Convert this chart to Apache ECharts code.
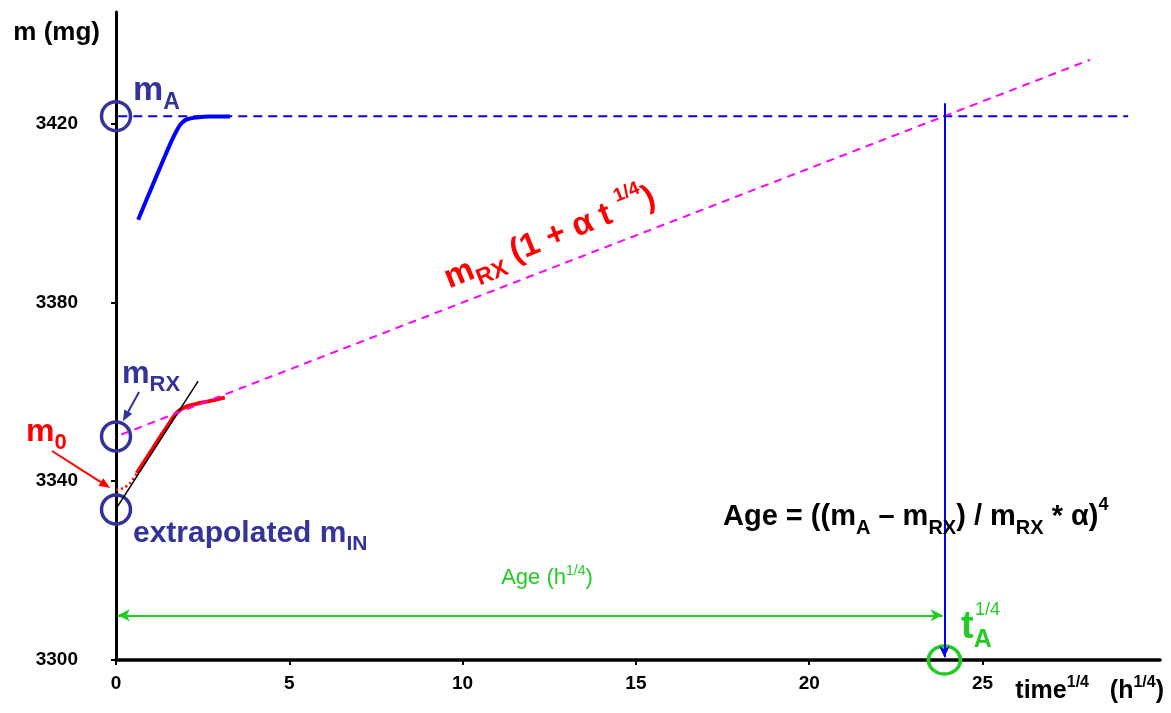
<!DOCTYPE html>
<html>
<head>
<meta charset="utf-8">
<script src="https://cdn.jsdelivr.net/npm/echarts@6/dist/echarts.min.js"></script>
<style>
  html, body { margin: 0; padding: 0; background: #ffffff; }
  #chart { width: 1171px; height: 713px; }
</style>
</head>
<body>
<div id="chart"></div>
<script>
// ---- axis ticks ----
const xTicks = [0, 5, 10, 15, 20, 25];
const yTicks = [3300, 3340, 3380, 3420];

// ---- uptake curve approaching the saturation mass m_A ----
const saturationX = [0.64, 1.0, 1.3, 1.6, 1.78, 1.9, 2.05, 2.33, 2.7, 3.29];
const saturationY = [3398.5, 3405.2, 3410.7, 3416.1, 3418.9, 3420.2, 3421.0, 3421.4, 3421.6, 3421.6];

// ---- early rehydroxylation measurement (solid) and initial drying part (dotted) ----
const measuredX = [0.6, 1.0, 1.3, 1.6, 1.75, 1.9, 2.1, 2.42, 2.8, 3.14];
const measuredY = [3341.8, 3346.6, 3350.2, 3353.7, 3355.3, 3356.2, 3356.9, 3357.5, 3358.1, 3358.7];
const dryingX = [0, 0.15, 0.3, 0.45, 0.6];
const dryingY = [3338.1, 3338.3, 3338.9, 3340.0, 3341.8];

// ---- straight-line fits ----
const tangentX = [-0.8, 2.37];
const tangentY = [3324.2, 3362.4];
const rateX = [-0.6, 28.1];
const rateY = [3348.2, 3434.3];

// ---- reference levels ----
const mA = 3421.7;
const levelX = [-0.8, 29.2];
const mRX = 3350;
const mIN = 3333.7;
const tA = 23.9;
const ageArrowY = 3310;
const dropTopY = 3424.6;

const F = '"Liberation Sans", Arial, sans-serif';
const NAVY = '#333399';
const GREEN = '#22cc22';

function pairs(xs, ys) { return xs.map((x, i) => [x, ys[i]]); }

const chart = echarts.init(document.getElementById('chart'), null, { renderer: 'canvas' });

const tickFmt = (list) => (v) => (list.indexOf(v) >= 0 ? String(v) : '');

chart.setOption({
  animation: false,
  backgroundColor: '#ffffff',
  grid: { left: 116, right: 11, top: 12, bottom: 53, containLabel: false },
  xAxis: {
    type: 'value', min: 0, max: 30.12, interval: 5,
    name: '{b|time}{p|1/4}{b|   (h}{p|1/4}{b|)}',
    nameLocation: 'end', nameGap: 4,
    nameTextStyle: {
      align: 'right', verticalAlign: 'top', padding: [15, 0, 0, 0],
      rich: {
        b: { fontFamily: F, fontWeight: 'bold', fontSize: 25, color: '#000', lineHeight: 32 },
        p: { fontFamily: F, fontWeight: 'bold', fontSize: 16, color: '#000', verticalAlign: 'top', lineHeight: 16 }
      }
    },
    splitLine: { show: false },
    axisLine: { show: true, onZero: false, lineStyle: { color: '#000', width: 3.5 } },
    axisTick: { show: true, customValues: xTicks, length: 5, lineStyle: { color: '#000', width: 2 } },
    axisLabel: {
      customValues: xTicks, formatter: tickFmt(xTicks), margin: 14,
      fontFamily: F, fontWeight: 'bold', fontSize: 19, color: '#000'
    }
  },
  yAxis: {
    type: 'value', min: 3300, max: 3445, interval: 40,
    name: 'm (mg)', nameLocation: 'end', nameGap: 0,
    nameTextStyle: {
      align: 'right', verticalAlign: 'top', padding: [8, 16, 0, 0],
      fontFamily: F, fontWeight: 'bold', fontSize: 26, color: '#000'
    },
    splitLine: { show: false },
    axisLine: { show: true, onZero: false, lineStyle: { color: '#000', width: 3 } },
    axisTick: { show: true, customValues: yTicks, length: 5, lineStyle: { color: '#000', width: 2 } },
    axisLabel: {
      customValues: yTicks, formatter: tickFmt(yTicks), margin: 38,
      padding: [14, 0, 0, 0],
      fontFamily: F, fontWeight: 'bold', fontSize: 19, color: '#000'
    }
  },
  series: [
    {
      name: 'saturation', type: 'line', data: pairs(saturationX, saturationY),
      smooth: 0.35, showSymbol: false, clip: false,
      lineStyle: { color: '#0000ff', width: 4 }
    },
    {
      name: 'mA level', type: 'line', data: pairs(levelX, [mA, mA]),
      showSymbol: false, clip: false,
      lineStyle: { color: '#0000ff', width: 2, type: [9, 6] },
      markLine: {
        silent: true, symbol: ['none', 'arrow'], symbolSize: [8, 11],
        label: { show: false },
        lineStyle: { color: '#0000ff', width: 2, type: 'solid' },
        data: [[{ coord: [tA, dropTopY] }, { coord: [tA, 3300.6] }]]
      }
    },
    {
      name: 'drying', type: 'line', data: pairs(dryingX, dryingY),
      smooth: 0.4, showSymbol: false, clip: false,
      lineStyle: { color: '#ff0000', width: 2.5, type: [2, 3] }
    },
    {
      name: 'measured', type: 'line', data: pairs(measuredX, measuredY),
      smooth: 0.35, showSymbol: false, clip: false,
      lineStyle: { color: '#ff0000', width: 4 }
    },
    {
      name: 'tangent', type: 'line', data: pairs(tangentX, tangentY),
      showSymbol: false, clip: false,
      lineStyle: { color: '#000000', width: 1.5 }
    },
    {
      name: 'rate', type: 'line', data: pairs(rateX, rateY),
      showSymbol: false, clip: false,
      lineStyle: { color: '#ff00ff', width: 2, type: [8, 6] },
      markLine: {
        silent: true, symbol: ['arrow', 'arrow'], symbolSize: [9, 12],
        label: { show: false },
        lineStyle: { color: GREEN, width: 2, type: 'solid' },
        data: [[{ coord: [0.05, ageArrowY] }, { coord: [tA - 0.05, ageArrowY] }]]
      }
    },
    {
      name: 'masses', type: 'scatter', data: pairs([0, 0, 0], [mA, mRX, mIN]),
      symbol: 'circle', symbolSize: 29, clip: false,
      itemStyle: { color: 'rgba(0,0,0,0)', borderColor: NAVY, borderWidth: 3.5, opacity: 1 }
    },
    {
      name: 'age', type: 'scatter', data: [[tA, 3300]],
      symbol: 'circle', symbolSize: [32, 28], clip: false,
      itemStyle: { color: 'rgba(0,0,0,0)', borderColor: GREEN, borderWidth: 3.5, opacity: 1 }
    }
  ]
});

// ---- annotation text and pointer arrows ----
function rich(fill, size, subSize, supSize, lh) {
  return {
    b: { fontFamily: F, fontWeight: 'bold', fontSize: size, fill, lineHeight: lh },
    s: { fontFamily: F, fontWeight: 'bold', fontSize: subSize, fill, verticalAlign: 'bottom', lineHeight: subSize },
    p: { fontFamily: F, fontWeight: 'bold', fontSize: supSize, fill, verticalAlign: 'top', lineHeight: supSize }
  };
}

function label(x, y, text, r, align, rotationDeg) {
  return {
    type: 'text', x, y, silent: true, z: 100,
    rotation: (rotationDeg || 0) * Math.PI / 180,
    style: { text, rich: r, align: align || 'left', verticalAlign: 'middle' }
  };
}

function arrow(x1, y1, x2, y2, color, w, hl, hw) {
  const dx = x2 - x1, dy = y2 - y1, len = Math.hypot(dx, dy);
  const ux = dx / len, uy = dy / len;
  const bx = x2 - ux * hl, by = y2 - uy * hl;
  return [
    { type: 'line', silent: true, z: 100, shape: { x1, y1, x2: bx, y2: by }, style: { stroke: color, lineWidth: w } },
    { type: 'polygon', silent: true, z: 100,
      shape: { points: [[x2, y2], [bx - uy * hw / 2, by + ux * hw / 2], [bx + uy * hw / 2, by - ux * hw / 2]] },
      style: { fill: color } }
  ];
}

const m0Tip = chart.convertToPixel({ xAxisIndex: 0, yAxisIndex: 0 }, [-0.17, 3338.5]);
const rxTip = chart.convertToPixel({ xAxisIndex: 0, yAxisIndex: 0 }, [0.2, 3353.4]);

const ageRich = {
  n: { fontFamily: F, fontSize: 22, fill: GREEN, lineHeight: 28 },
  q: { fontFamily: F, fontSize: 14, fill: GREEN, verticalAlign: 'top', lineHeight: 14 }
};

const graphics = [
  label(133, 91, '{b|m}{s|A}', rich(NAVY, 34, 23, 14, 46)),
  label(122, 374, '{b|m}{s|RX}', rich(NAVY, 31, 22, 14, 44)),
  label(26, 432, '{b|m}{s|0}', rich('#ff0000', 32, 22, 14, 44)),
  label(133, 534, '{b|extrapolated m}{s|IN}', rich(NAVY, 30, 21, 14, 42)),
  label(723, 517, '{b|Age = ((m}{s|A}{b| – m}{s|RX}{b|) / m}{s|RX}{b| * α)}{p|4}', rich('#000000', 29, 20, 18, 42)),
  label(550, 238, '{b|m}{s|RX}{b| (1 + α t }{p|1/4}{b|)}', rich('#ff0000', 33, 23, 19, 46), 'center', 22),
  label(547, 578, '{n|Age (h}{q|1/4}{n|)}', ageRich, 'center'),
  label(961, 628, '{b|t}{s|A}', rich(GREEN, 38, 25, 16, 50)),
  label(975, 610, '{p|1/4}', { p: { fontFamily: F, fontSize: 18, fill: GREEN, lineHeight: 20 } })
]
  .concat(arrow(52, 451, m0Tip[0], m0Tip[1], '#ff0000', 2, 11, 9))
  .concat(arrow(139, 392, rxTip[0], rxTip[1], NAVY, 2, 11, 9));

chart.setOption({ graphic: { elements: graphics } });
</script>
</body>
</html>
